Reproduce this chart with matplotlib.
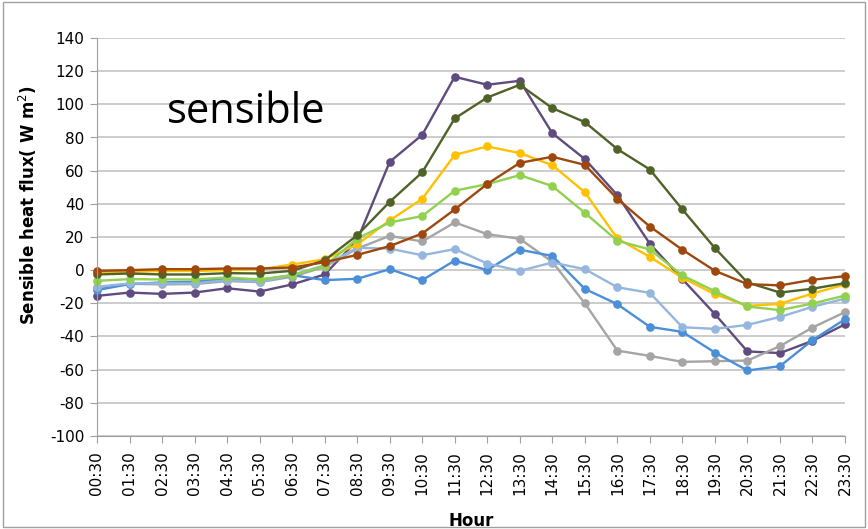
import matplotlib
matplotlib.use("Agg")
import matplotlib.pyplot as plt
from matplotlib.patches import Rectangle

plt.rcParams["axes.unicode_minus"] = False

hours = ["00:30", "01:30", "02:30", "03:30", "04:30", "05:30", "06:30", "07:30",
         "08:30", "09:30", "10:30", "11:30", "12:30", "13:30", "14:30", "15:30",
         "16:30", "17:30", "18:30", "19:30", "20:30", "21:30", "22:30", "23:30"]

purple = [-15.5, -13.5, -14.3, -13.5, -10.9, -12.9, -8.6, -2.6, 18, 65.3, 81.6, 116.6,
          111.8, 114.2, 82.6, 67, 45.2, 15.9, -5.4, -26.5, -49, -50, -42.6, -32.6]
gray = [-10.7, -8.2, -8.6, -8.4, -6.6, -7.2, -4, 2, 13, 20.7, 17.3, 28.8,
        21.7, 18.9, 5, -20, -48.5, -51.7, -55.3, -54.9, -54.5, -45.8, -34.6, -25.3]
blue = [-12, -8.4, -7.4, -7, -5, -6, -3, -6, -5.2, 0.6, -6, 5.8,
        0, 12.3, 8.6, -11.3, -20.5, -34.2, -37.2, -49.7, -60.5, -57.9, -42.2, -29.6]
lightblue = [-10, -8, -8, -8, -6, -7, -3, 3, 13.5, 13, 9, 12.7,
             4, -0.4, 4.6, 0.6, -10.3, -13.7, -34.4, -35.4, -33, -28.2, -22.1, -17.1]
yellow = [-1, -1, -0.5, -0.5, 0, 0.5, 3.4, 6.6, 15.5, 30, 43, 69.5,
          74.6, 70.6, 63.3, 47, 19.1, 8, -4.6, -14.5, -21.5, -20.3, -14.1, -8.6]
lightgreen = [-6.4, -5.4, -5.6, -5.6, -4.4, -5.6, -3, 2.4, 19, 28.8, 32.6, 47.9,
              51.9, 57.3, 50.7, 34.6, 17.7, 12.5, -3.2, -12.7, -21.9, -24.1, -20.1, -15.3]
darkgreen = [-2.6, -2, -2.6, -2.6, -1.8, -2, -0.4, 6, 21, 41.2, 59, 91.5,
             104.1, 111.8, 97.7, 89.3, 73, 60.7, 36.6, 13.3, -7.4, -13.5, -11.2, -7.8]
brown = [-0.4, 0, 0.6, 0.6, 1, 1, 1.6, 4.8, 9.2, 14.5, 22.1, 36.6,
         52, 64.7, 68.4, 63.5, 43, 26.3, 12.3, -0.4, -8.4, -9.2, -5.8, -3.6]

series = [
    (purple, "#5F4B7F"),
    (gray, "#A5A5A5"),
    (blue, "#4A8FD8"),
    (lightblue, "#95B6DE"),
    (yellow, "#FFC000"),
    (lightgreen, "#92D050"),
    (darkgreen, "#4F6228"),
    (brown, "#9E480E"),
]

fig = plt.figure(figsize=(8.68, 5.29), dpi=100)
ax = fig.add_axes([97 / 868, 1 - 436 / 529, (845 - 97) / 868, (436 - 38) / 529])

x = list(range(len(hours)))
for vals, col in series:
    ax.plot(x, vals, color=col, lw=1.7, marker="o", ms=5.2, clip_on=False)

ax.set_xlim(0, len(hours) - 1)
ax.set_ylim(-100, 140)
ax.set_yticks(range(-100, 141, 20))
ax.set_xticks(x)
ax.set_xticklabels(hours, rotation=90, fontsize=11)
ax.tick_params(axis="y", length=5, color="#A0A0A0", labelsize=11, pad=4)
ax.tick_params(axis="x", length=5, color="#A0A0A0", pad=6)
ax.yaxis.grid(True, color="#BFBFBF", lw=1.1)
ax.set_axisbelow(True)
for s in ["top", "right"]:
    ax.spines[s].set_visible(False)
ax.spines["left"].set_color("#A0A0A0")
ax.spines["bottom"].set_color("#A0A0A0")

ax.set_ylabel("Sensible heat flux( W m$^{2}$)", fontsize=12, fontweight="bold")
ax.yaxis.set_label_coords(-0.078, 0.58)
ax.set_xlabel("Hour", fontsize=12, fontweight="bold", labelpad=12)

ax.text(0.0936, 0.786, "sensible", transform=ax.transAxes, fontsize=30,
        family="Open Sans", color="black", va="baseline")

fig.patches.append(Rectangle((0.003, 0.003), 0.994, 0.994, transform=fig.transFigure,
                             fill=False, edgecolor="#A0A0A0", lw=1))

fig.savefig("out.png", dpi=100)
